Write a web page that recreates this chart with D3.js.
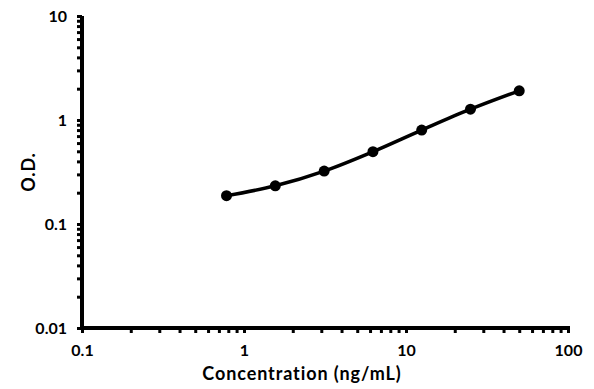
<!DOCTYPE html>
<html><head><meta charset="utf-8">
<script src="https://cdn.jsdelivr.net/npm/d3@7"></script>
<style>
html,body{margin:0;padding:0;background:#fff;}
svg text{font-family:Lato,"DejaVu Sans",sans-serif;font-weight:bold;fill:#000;}
</style></head>
<body><svg id="c" width="594" height="389"></svg>
<script>
const concentrations = [0.78, 1.56, 3.125, 6.25, 12.5, 25, 50];
const odValues = [0.187, 0.233, 0.323, 0.496, 0.80, 1.27, 1.91];
const xTickLabels = [0.1, 1, 10, 100];
const yTickLabels = [0.01, 0.1, 1, 10];
const xTitle = "Concentration (ng/mL)";
const yTitle = "O.D.";

const svg = d3.select("#c");
const m = {left:82, right:568, top:16, bottom:328};
const x = d3.scaleLog().domain([0.1,100]).range([m.left, m.right]);
const y = d3.scaleLog().domain([0.01,10]).range([m.bottom, m.top]);

function minorTicks(lo, hi){
  const t=[];
  for(let e=Math.log10(lo); e<Math.log10(hi); e++){
    for(let k=1;k<10;k++) t.push(k*Math.pow(10,e));
  }
  t.push(hi);
  return t;
}
const fmt = v => d3.format("~g")(v);

const xAxis = d3.axisBottom(x).tickValues(minorTicks(0.1,100)).tickSizeInner(5).tickSizeOuter(0)
  .tickFormat(v => xTickLabels.some(t=>Math.abs(t-v)/t<1e-9) ? fmt(v) : "");
const yAxis = d3.axisLeft(y).tickValues(minorTicks(0.01,10)).tickSizeInner(5).tickSizeOuter(0)
  .tickFormat(v => yTickLabels.some(t=>Math.abs(t-v)/t<1e-9) ? fmt(v) : "");

const gx = svg.append("g").attr("transform",`translate(0,${m.bottom})`).call(xAxis);
gx.select(".domain").attr("stroke","#000").attr("stroke-width",4).attr("d",`M${m.left-2},0H${m.right+2}`);
gx.selectAll(".tick line").attr("stroke","#000").attr("stroke-width",3);
gx.selectAll(".tick text").attr("font-size",16).attr("dy",0).attr("y",28);

const gy = svg.append("g").attr("transform",`translate(${m.left},0)`).call(yAxis);
gy.select(".domain").attr("stroke","#000").attr("stroke-width",4).attr("d",`M0,${m.top}V${m.bottom+2}`);
gy.selectAll(".tick line").attr("stroke","#000").attr("stroke-width",3);
gy.selectAll(".tick text").attr("font-size",16).attr("x",-15).attr("dy","0.35em");
svg.selectAll(".tick text").style("font-family","Lato, 'DejaVu Sans', sans-serif").style("font-weight","bold");

const data = concentrations.map((c,i)=>({c, v: odValues[i]}));
const line = d3.line().x(d=>x(d.c)).y(d=>y(d.v)).curve(d3.curveMonotoneX);
svg.append("path").datum(data).attr("d",line).attr("fill","none").attr("stroke","#000").attr("stroke-width",3.5);
svg.selectAll("circle.pt").data(data).join("circle").attr("class","pt")
  .attr("cx",d=>x(d.c)).attr("cy",d=>y(d.v)).attr("r",5.5).attr("fill","#000");

svg.append("text").attr("x",302).attr("y",380).attr("text-anchor","middle").attr("font-size",18)
  .attr("letter-spacing",0.9).text(xTitle);
svg.append("text").attr("transform",`translate(35,${(m.top+m.bottom)/2}) rotate(-90)`)
  .attr("text-anchor","middle").attr("font-size",18).attr("letter-spacing",0.8).text(yTitle);
</script></body></html>
